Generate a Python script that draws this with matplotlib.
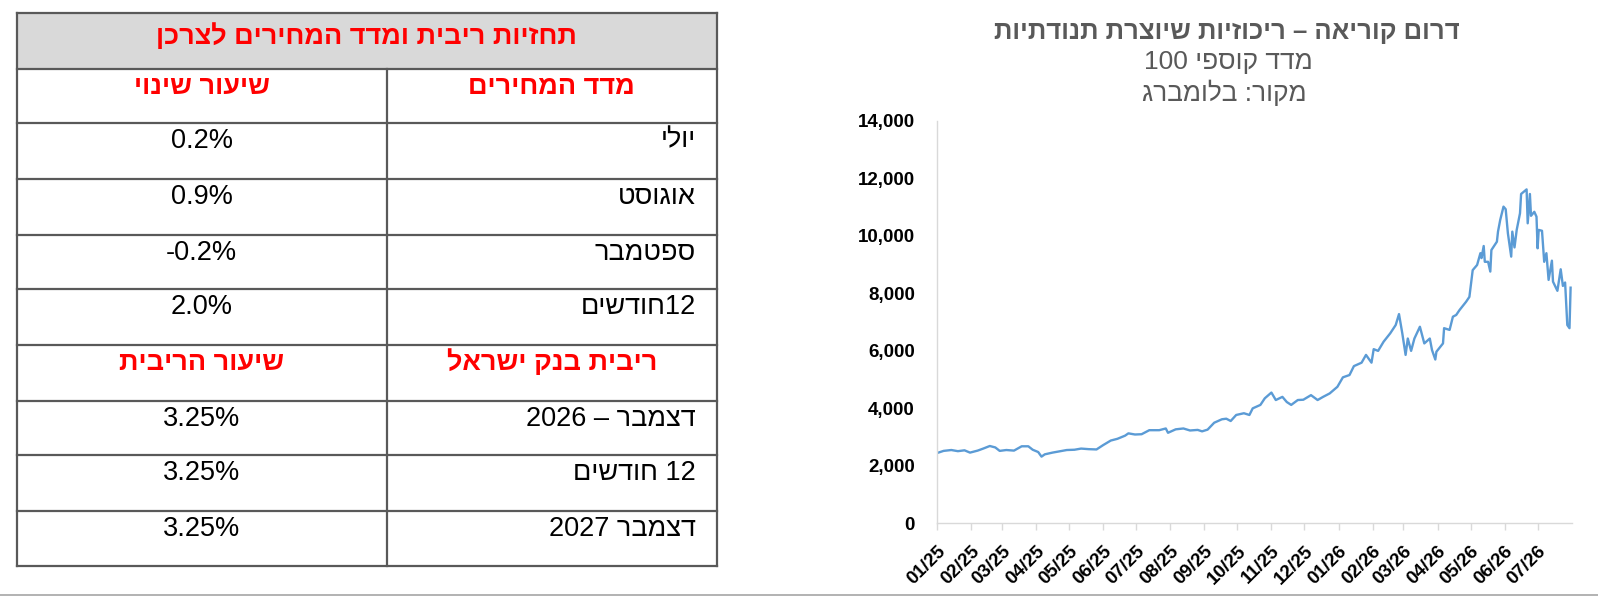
import re
import matplotlib
matplotlib.use('Agg')
import matplotlib.pyplot as plt
import matplotlib.dates as mdates
from matplotlib.patches import Rectangle
from matplotlib.ticker import FuncFormatter
import pandas as pd

plt.rcParams['font.family'] = ['Liberation Sans', 'DejaVu Sans']

# table texts
table_title = 'תחזיות ריבית ומדד המחירים לצרכן'
cpi_header = ['מדד המחירים', 'שיעור שינוי']
cpi_labels = ['יולי', 'אוגוסט', 'ספטמבר', '12חודשים']
cpi_values = ['0.2%', '0.9%', '-0.2%', '2.0%']
rate_header = ['ריבית בנק ישראל', 'שיעור הריבית']
rate_labels = ['דצמבר – 2026', '12 חודשים', 'דצמבר 2027']
rate_values = ['3.25%', '3.25%', '3.25%']

# chart texts
chart_title = 'דרום קוריאה – ריכוזיות שיוצרת תנודתיות'
chart_sub1 = 'מדד קוספי 100'
chart_sub2 = 'מקור: בלומברג'

# KOSPI 100
dates = [
    '2025-01-02', '2025-01-07', '2025-01-14', '2025-01-20', '2025-01-26', '2025-01-31',
    '2025-02-07', '2025-02-12', '2025-02-18', '2025-02-23', '2025-02-27', '2025-03-05',
    '2025-03-12', '2025-03-19', '2025-03-25', '2025-03-29', '2025-04-03', '2025-04-06',
    '2025-04-09', '2025-04-16', '2025-04-23', '2025-04-29', '2025-05-06', '2025-05-12',
    '2025-05-19', '2025-05-26', '2025-06-01', '2025-06-08', '2025-06-14', '2025-06-21',
    '2025-06-24', '2025-06-30', '2025-07-06', '2025-07-13', '2025-07-22', '2025-07-28',
    '2025-07-30', '2025-08-06', '2025-08-13', '2025-08-19', '2025-08-26', '2025-08-30',
    '2025-09-04', '2025-09-10', '2025-09-17', '2025-09-21', '2025-09-25', '2025-09-30',
    '2025-10-07', '2025-10-12', '2025-10-15', '2025-10-22', '2025-10-26', '2025-11-01',
    '2025-11-05', '2025-11-11', '2025-11-15', '2025-11-19', '2025-11-25', '2025-11-30',
    '2025-12-07', '2025-12-13', '2025-12-18', '2025-12-24', '2025-12-31', '2026-01-05',
    '2026-01-11', '2026-01-15', '2026-01-22', '2026-01-26', '2026-01-31', '2026-02-02',
    '2026-02-06', '2026-02-11', '2026-02-17', '2026-02-22', '2026-02-25', '2026-02-28',
    '2026-03-03', '2026-03-05', '2026-03-08', '2026-03-11', '2026-03-16', '2026-03-20',
    '2026-03-25', '2026-03-27', '2026-03-30', '2026-03-31', '2026-04-06', '2026-04-07',
    '2026-04-12', '2026-04-15', '2026-04-18', '2026-04-21', '2026-04-27', '2026-04-30',
    '2026-05-03', '2026-05-07', '2026-05-10', '2026-05-11', '2026-05-13', '2026-05-14',
    '2026-05-17', '2026-05-19', '2026-05-20', '2026-05-25', '2026-05-26', '2026-05-28',
    '2026-05-31', '2026-06-02', '2026-06-04', '2026-06-07', '2026-06-08', '2026-06-10',
    '2026-06-12', '2026-06-15', '2026-06-16', '2026-06-21', '2026-06-22', '2026-06-24',
    '2026-06-25', '2026-06-28', '2026-06-30', '2026-07-01', '2026-07-02', '2026-07-05',
    '2026-07-07', '2026-07-09', '2026-07-11', '2026-07-14', '2026-07-15', '2026-07-19',
    '2026-07-22', '2026-07-24', '2026-07-26', '2026-07-28', '2026-07-30', '2026-07-31',
]
values = [
    2457, 2520, 2550, 2510, 2540, 2460,
    2530, 2600, 2690, 2640, 2520, 2550,
    2530, 2680, 2680, 2560, 2480, 2320,
    2400, 2460, 2510, 2550, 2560, 2600,
    2580, 2570, 2720, 2880, 2940, 3050,
    3130, 3090, 3100, 3240, 3240, 3300,
    3150, 3270, 3300, 3230, 3250, 3200,
    3260, 3500, 3620, 3640, 3560, 3770,
    3830, 3770, 4000, 4120, 4350, 4550,
    4290, 4400, 4220, 4120, 4290, 4300,
    4460, 4290, 4400, 4520, 4750, 5080,
    5160, 5470, 5590, 5860, 5590, 6060,
    6000, 6320, 6610, 6900, 7280, 6610,
    5860, 6430, 6000, 6430, 6840, 6260,
    6430, 6030, 5700, 5970, 6260, 6790,
    6730, 7190, 7250, 7420, 7710, 7880,
    8810, 8990, 9400, 9230, 9650, 9100,
    9100, 8760, 9510, 9800, 10150, 10555,
    11020, 10930, 10090, 9280, 10150, 9600,
    10210, 10790, 11460, 11620, 10440, 11460,
    10700, 10840, 10670, 9570, 10210, 10180,
    9100, 9400, 8470, 9140, 8410, 8090,
    8840, 8260, 8380, 6900, 6790, 8200,
]


def rtl(s):
    # matplotlib has no bidi: flip to visual order, keep number runs LTR
    r = s[::-1]
    return re.sub(r'[0-9.,%]+', lambda m: m.group(0)[::-1], r)


W, H = 1598, 596
fig = plt.figure(figsize=(W / 100, H / 100), dpi=100)

bg = fig.add_axes([0, 0, 1, 1])
bg.set_xlim(0, W)
bg.set_ylim(H, 0)
bg.axis('off')

# ---- table
L, M, R = 16.5, 386.7, 716.7
rows = [13, 69, 122.7, 178.7, 235, 288.7, 344.7, 400.7, 455, 511, 566]
border = '#595959'
red = '#ff0000'
fs = 19.5

bg.add_patch(Rectangle((L, rows[0]), R - L, rows[1] - rows[0], fc='#d9d9d9', ec='none'))
for y in rows:
    bg.plot([L, R], [y, y], color=border, lw=1.6, solid_capstyle='projecting')
bg.plot([L, L], [rows[0], rows[-1]], color=border, lw=1.6, solid_capstyle='projecting')
bg.plot([R, R], [rows[0], rows[-1]], color=border, lw=1.6, solid_capstyle='projecting')
bg.plot([M, M], [rows[1], rows[-1]], color=border, lw=1.6)

bg.text((L + R) / 2, rows[0] + 31, rtl(table_title), ha='center', va='baseline',
        fontsize=fs, fontweight='bold', color=red)

left_c = (L + M) / 2
right_c = (M + R) / 2
label_x = R - 21

body = [('h', cpi_header)] + list(zip(cpi_labels, cpi_values)) + \
       [('h', rate_header)] + list(zip(rate_labels, rate_values))
for i, item in enumerate(body):
    top = rows[i + 1]
    base = top + 25
    if item[0] == 'h':
        hdr = item[1]
        bg.text(right_c, base, rtl(hdr[0]), ha='center', va='baseline',
                fontsize=fs, fontweight='bold', color=red)
        bg.text(left_c, base, rtl(hdr[1]), ha='center', va='baseline',
                fontsize=fs, fontweight='bold', color=red)
    else:
        lab, val = item
        bg.text(label_x, base, rtl(lab), ha='right', va='baseline', fontsize=fs, color='black')
        bg.text(left_c, base, val, ha='center', va='baseline', fontsize=fs, color='black')

# bottom separator line of the page
bg.plot([0, W], [595.3, 595.3], color='#a6a6a6', lw=1.2)

# ---- chart titles
tcol = '#595959'
bg.text(1227, 32, rtl(chart_title), ha='center', va='center', fontsize=18.5,
        fontweight='bold', color=tcol)
bg.text(1228, 62, rtl(chart_sub1), ha='center', va='center', fontsize=19, color=tcol)
bg.text(1224, 93, rtl(chart_sub2), ha='center', va='center', fontsize=19, color=tcol)

# ---- chart
x0, x1, y0, y1 = 937, 1571.7, 523.3, 121
ax = fig.add_axes([x0 / W, (H - y0) / H, (x1 - x0) / W, (y0 - y1) / H])
ax.patch.set_alpha(0)

d = pd.to_datetime(dates)
ax.plot(d, values, color='#5b9bd5', lw=1.7)

ax.set_ylim(0, 14000)
ax.set_yticks(range(0, 14001, 2000))
ax.yaxis.set_major_formatter(FuncFormatter(lambda v, p: f'{int(v):,}'))
ax.set_xlim(pd.Timestamp('2025-01-01'), pd.Timestamp('2026-08-01'))
ax.set_xticks(pd.date_range('2025-01-01', '2026-07-01', freq='MS'))
ax.xaxis.set_major_formatter(mdates.DateFormatter('%m/%y'))

for s in ['top', 'right']:
    ax.spines[s].set_visible(False)
for s in ['left', 'bottom']:
    ax.spines[s].set_color('#d9d9d9')
    ax.spines[s].set_linewidth(1.0)

ax.tick_params(axis='y', length=0, pad=16, labelsize=13.5)
ax.tick_params(axis='x', length=5, width=1, color='#d9d9d9', direction='out', pad=9, labelsize=13.5)
for lbl in ax.get_yticklabels():
    lbl.set_fontweight('bold')
for lbl in ax.get_xticklabels():
    lbl.set_fontweight('bold')
    lbl.set_rotation(45)
    lbl.set_ha('right')
    lbl.set_rotation_mode('anchor')

fig.savefig('out.png', dpi=100)
